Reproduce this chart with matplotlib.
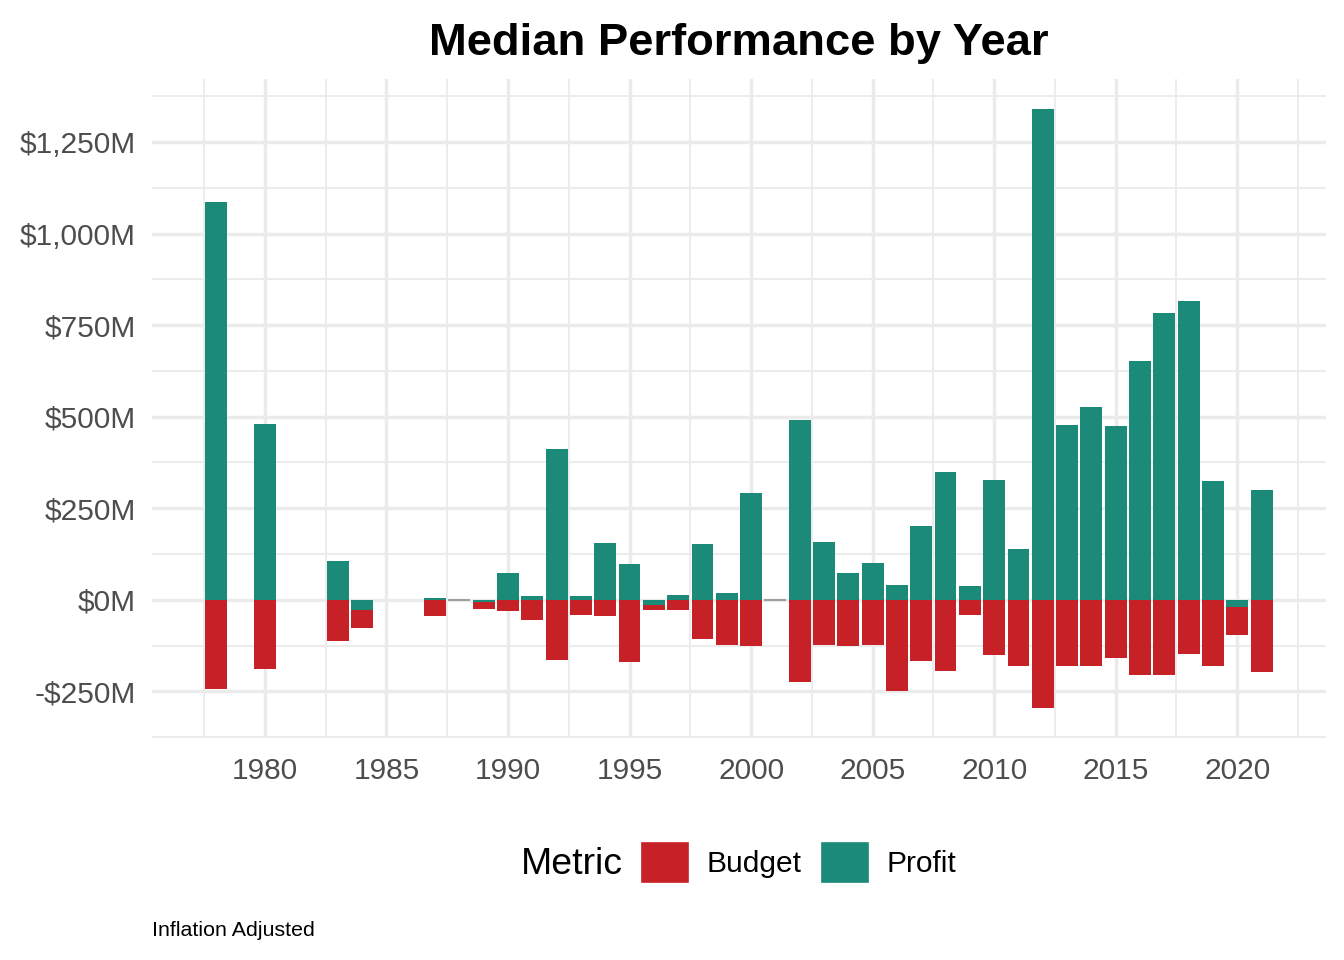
import numpy as np
import matplotlib.pyplot as plt
from matplotlib.patches import Patch
from matplotlib.ticker import FuncFormatter, MultipleLocator

plt.rcParams['font.family'] = ['Liberation Sans', 'DejaVu Sans']

# Median values per year, in $M (inflation adjusted)
years = [1978, 1980, 1983, 1984, 1987, 1989, 1990, 1991, 1992, 1993, 1994, 1995,
         1996, 1997, 1998, 1999, 2000, 2002, 2003, 2004, 2005, 2006, 2007, 2008,
         2009, 2010, 2011, 2012, 2013, 2014, 2015, 2016, 2017, 2018, 2019, 2020, 2021]
profit = [1087, 480, 106, -27, 5, -5, 72, 10, 411, 10, 155, 97,
          -15, 13, 152, 18, 291, 490, 157, 73, 100, 40, 201, 349,
          37, 327, 138, 1341, 478, 527, 474, 653, 783, 817, 325, -20, 300]
budget = [-243, -189, -112, -50, -43, -20, -31, -54, -164, -42, -45, -170,
          -12, -28, -107, -124, -126, -225, -124, -126, -124, -248, -167, -194,
          -41, -151, -181, -296, -181, -181, -158, -205, -205, -147, -181, -76, -196]
# years where the metric is missing (drawn as an empty bar)
na_years = [1988, 2001]

red = '#C62127'
green = '#1C8A79'

fig = plt.figure(figsize=(7, 5), dpi=192)
ax = fig.add_axes([0.113, 0.231, 0.8736, 0.687])

profit = np.array(profit)
budget = np.array(budget)
ax.bar(years, profit, width=0.9, color=green, zorder=3)
ax.bar(years, budget, width=0.9, bottom=np.minimum(profit, 0), color=red, zorder=3)
ax.bar(na_years, [0] * len(na_years), width=0.9, edgecolor='#8C8C8C', linewidth=0.6, zorder=3)

ax.set_xlim(1975.35, 2023.65)
ax.set_ylim(-378, 1423)

ax.xaxis.set_major_locator(MultipleLocator(5))
ax.xaxis.set_minor_locator(MultipleLocator(2.5))
ax.yaxis.set_major_locator(MultipleLocator(250))
ax.yaxis.set_minor_locator(MultipleLocator(125))

def money(v, pos):
    s = f"${abs(v):,.0f}M"
    return "-" + s if v < 0 else s

ax.yaxis.set_major_formatter(FuncFormatter(money))

ax.grid(which='major', color='#EBEBEB', linewidth=1.3, zorder=0)
ax.grid(which='minor', color='#EBEBEB', linewidth=0.7, zorder=0)
ax.set_axisbelow(True)
for s in ax.spines.values():
    s.set_visible(False)
ax.tick_params(which='both', length=0, labelsize=11.2, labelcolor='#4D4D4D')
ax.tick_params(axis='x', pad=7)
ax.tick_params(axis='y', pad=6)

ax.set_title("Median Performance by Year", fontsize=17, fontweight='bold', pad=9)

# legend along the bottom
fig.text(623 / 1344, 1 - 864 / 960, "Metric", fontsize=14, ha='right', va='center')
handles = [Patch(color=red, label='Budget'), Patch(color=green, label='Profit')]
fig.legend(handles=handles, loc='center left', bbox_to_anchor=(642 / 1344, 1 - 862 / 960),
           ncol=2, frameon=False, fontsize=11.2, borderpad=0, borderaxespad=0,
           handlelength=1.5, handleheight=1.6, handletextpad=0.65, columnspacing=0.7)

fig.text(152 / 1344, 1 - 930 / 960, "Inflation Adjusted", fontsize=8, ha='left', va='center')

fig.savefig('out.png', dpi=192)
